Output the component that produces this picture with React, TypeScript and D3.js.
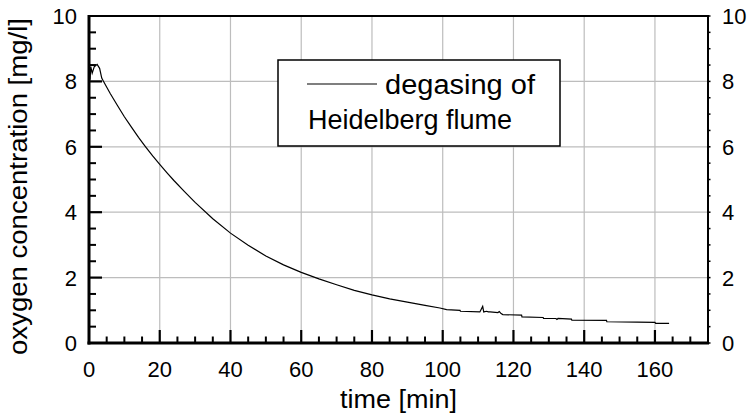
import React from "react";
import * as d3 from "d3";

// time [min]
const times: number[] = [0.3, 0.5, 0.9, 1.5, 2.3, 3.0, 3.6, 4.0, 6, 8, 10, 12, 14, 16, 18, 20, 22, 24, 27, 30, 35, 40, 45, 50, 55, 60, 65, 70, 75, 80, 85, 90, 95, 99.2, 101.1, 104.9, 105.0, 110.5, 111.3, 111.6, 112.4, 112.9, 113.4, 115.6, 116.0, 116.5, 117.0, 122.3, 122.4, 128.4, 128.5, 132.0, 132.3, 132.6, 136.4, 136.5, 146.3, 146.4, 155, 160.0, 160.2, 164.0];
// oxygen concentration [mg/l]
const oxygen: number[] = [8.05, 8.45, 8.25, 8.45, 8.52, 8.4, 8.1, 8.02, 7.63, 7.27, 6.92, 6.6, 6.29, 6.0, 5.72, 5.46, 5.21, 4.97, 4.63, 4.3, 3.8, 3.36, 2.99, 2.66, 2.39, 2.16, 1.96, 1.78, 1.61, 1.47, 1.35, 1.25, 1.15, 1.07, 1.02, 1.0, 0.97, 0.95, 1.12, 0.95, 0.97, 0.95, 0.95, 0.93, 0.96, 0.9, 0.87, 0.85, 0.8, 0.78, 0.75, 0.75, 0.72, 0.75, 0.73, 0.7, 0.69, 0.65, 0.64, 0.63, 0.6, 0.6];

const xMajor: number[] = [0, 20, 40, 60, 80, 100, 120, 140, 160];
const yMajor: number[] = [0, 2, 4, 6, 8, 10];
const xTitle = "time [min]";
const yTitle = "oxygen concentration [mg/l]";
const legendLines: string[] = ["degasing of", "Heidelberg flume"];

const W = 754, H = 416;
const L = 89, R = 708, T = 16, B = 343;
const FONT = "'Liberation Sans', Arial, Helvetica, sans-serif";

export default function App() {
  const x = d3.scaleLinear().domain([0, 175]).range([L, R]);
  const y = d3.scaleLinear().domain([0, 10]).range([B, T]);
  const line = d3.line<number>().x((_, i) => x(times[i])).y((v) => y(v));
  const xMinor = d3.range(0, 175.01, 5).filter((v) => v % 20 !== 0);
  const yMinor = d3.range(0, 10.01, 0.5).filter((v) => v % 2 !== 0);
  const yAll = d3.range(0, 10.01, 0.5);
  return (
    <svg width={W} height={H} style={{ position: "absolute", left: 0, top: 0, background: "#fff" }} fontFamily={FONT}>
      <rect x={0} y={0} width={W} height={H} fill="#fff" />
      {/* grid */}
      {xMajor.filter((v) => v > 0).map((v) => (
        <line key={"gx" + v} x1={x(v)} x2={x(v)} y1={T} y2={B} stroke="#bdbdbd" strokeWidth={1.2} />
      ))}
      {yMajor.filter((v) => v > 0 && v < 10).map((v) => (
        <line key={"gy" + v} x1={L} x2={R} y1={y(v)} y2={y(v)} stroke="#bdbdbd" strokeWidth={1.2} />
      ))}
      {/* ticks */}
      {xMajor.filter((v) => v > 0).map((v) => (
        <line key={"tx" + v} x1={x(v)} x2={x(v)} y1={B} y2={B - 13} stroke="#000" strokeWidth={2.2} />
      ))}
      {xMinor.map((v) => (
        <line key={"tmx" + v} x1={x(v)} x2={x(v)} y1={B} y2={B - 6.5} stroke="#000" strokeWidth={2} />
      ))}
      {yMajor.filter((v) => v > 0 && v < 10).map((v) => (
        <line key={"ty" + v} x1={L} x2={L + 13} y1={y(v)} y2={y(v)} stroke="#000" strokeWidth={2.2} />
      ))}
      {yMinor.map((v) => (
        <line key={"tmy" + v} x1={L} x2={L + 7} y1={y(v)} y2={y(v)} stroke="#000" strokeWidth={2} />
      ))}
      {yAll.map((v) => (
        <line key={"try" + v} x1={R} x2={R + 2.5} y1={y(v)} y2={y(v)} stroke="#000" strokeWidth={1.5} />
      ))}
      {/* frame */}
      <line x1={L} x2={R + 1} y1={T} y2={T} stroke="#000" strokeWidth={2} />
      <line x1={R} x2={R} y1={T} y2={B} stroke="#000" strokeWidth={2} />
      <line x1={L} x2={L} y1={T - 1} y2={B + 1.5} stroke="#000" strokeWidth={3} />
      <line x1={L - 1.5} x2={R + 1} y1={B} y2={B} stroke="#000" strokeWidth={3} />
      {/* data */}
      <path d={line(oxygen) || ""} fill="none" stroke="#000" strokeWidth={1.2} />
      {/* tick labels */}
      {xMajor.map((v) => (
        <text key={"lx" + v} x={x(v)} y={377} textAnchor="middle" fontSize={22}>{v}</text>
      ))}
      {yMajor.map((v) => (
        <text key={"ly" + v} x={77} y={y(v) + 8} textAnchor="end" fontSize={22}>{v}</text>
      ))}
      {yMajor.map((v) => (
        <text key={"lr" + v} x={722} y={y(v) + 8} textAnchor="start" fontSize={22}>{v}</text>
      ))}
      {/* titles */}
      <text x={340} y={408} fontSize={26} textLength={117} lengthAdjust="spacingAndGlyphs">{xTitle}</text>
      <text transform={`translate(27,355) rotate(-90)`} fontSize={26} textLength={337} lengthAdjust="spacingAndGlyphs">{yTitle}</text>
      {/* legend */}
      <rect x={278} y={60} width={282} height={86} fill="#fff" stroke="#000" strokeWidth={1.5} />
      <line x1={307} x2={377} y1={84} y2={84} stroke="#000" strokeWidth={1.2} />
      <text x={385} y={94} fontSize={27} textLength={150} lengthAdjust="spacingAndGlyphs">{legendLines[0]}</text>
      <text x={308} y={129} fontSize={27}>{legendLines[1]}</text>
    </svg>
  );
}
